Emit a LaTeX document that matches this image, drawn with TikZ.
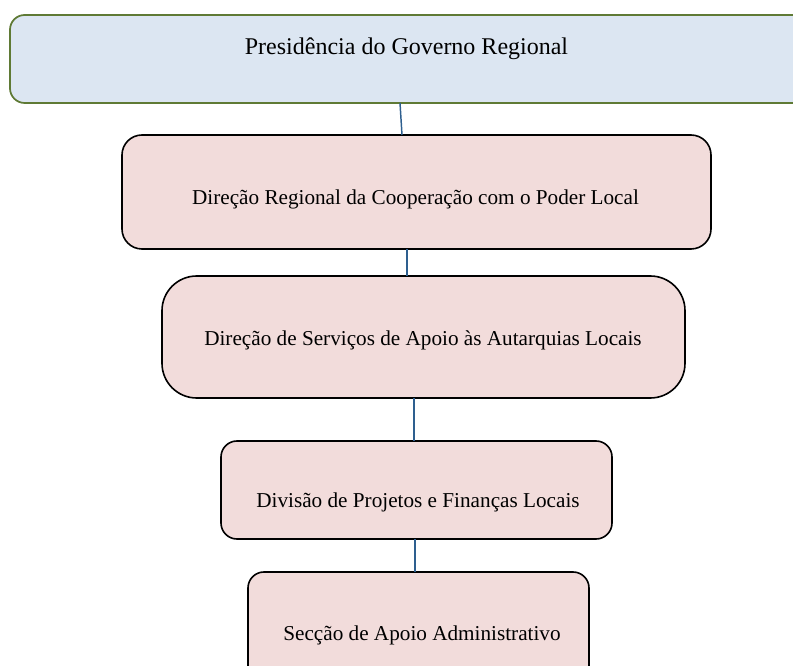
\documentclass[tikz,border=0pt]{standalone}
\usepackage{fontspec}
\setmainfont{Liberation Serif}
\definecolor{topfill}{HTML}{DCE6F2}
\definecolor{topline}{HTML}{5F7A35}
\definecolor{pinkfill}{HTML}{F2DCDB}
\definecolor{conn}{HTML}{2E5F8F}
\begin{document}
\begin{tikzpicture}[x=0.75pt,y=-0.75pt,
  topbox/.style={draw=topline,fill=topfill,line width=1.3pt,rectangle,inner sep=0pt,outer sep=0pt},
  pinkbox/.style={draw=black,fill=pinkfill,line width=1.2pt,rectangle,inner sep=0pt,outer sep=0pt},
  lbl/.style={anchor=base,inner sep=0pt,font=\fontsize{15.9pt}{19pt}\selectfont},
  toplbl/.style={anchor=base,inner sep=0pt,font=\fontsize{18pt}{21pt}\selectfont},
  link/.style={draw=conn,line width=1.1pt}]
\useasboundingbox (0,0) rectangle (793,666);
\node[topbox,minimum width=810*0.75pt,minimum height=88*0.75pt,rounded corners=11pt] (top) at (415,59) {};
\node[toplbl] (ttop) at (406.5,55) {Presidência do Governo Regional};
\node[pinkbox,minimum width=589*0.75pt,minimum height=114*0.75pt,rounded corners=15pt] (b2) at (416.5,192) {};
\node[lbl] (t2) at (415.5,205) {Direção Regional da Cooperação com o Poder Local};
\node[pinkbox,minimum width=523*0.75pt,minimum height=122*0.75pt,rounded corners=26pt] (b3) at (423.5,337) {};
\node[lbl] (t3) at (423,346) {Direção de Serviços de Apoio às Autarquias Locais};
\node[pinkbox,minimum width=391*0.75pt,minimum height=98*0.75pt,rounded corners=12pt] (b4) at (416.5,490) {};
\node[lbl] (t4) at (418,508) {Divisão de Projetos e Finanças Locais};
\node[pinkbox,minimum width=341*0.75pt,minimum height=120*0.75pt,rounded corners=12pt] (b5) at (418.5,632) {};
\node[lbl] (t5) at (422,640) {Secção de Apoio Administrativo};
\coordinate (c1a) at (400,103);
\draw[link] (c1a) -- (b2.north -| 402,0);
\draw[link] (b2.south -| 407,0) -- (b3.north -| 407,0);
\draw[link] (b3.south -| 414,0) -- (b4.north -| 414,0);
\draw[link] (b4.south -| 415,0) -- (b5.north -| 415,0);
\end{tikzpicture}
\end{document}
